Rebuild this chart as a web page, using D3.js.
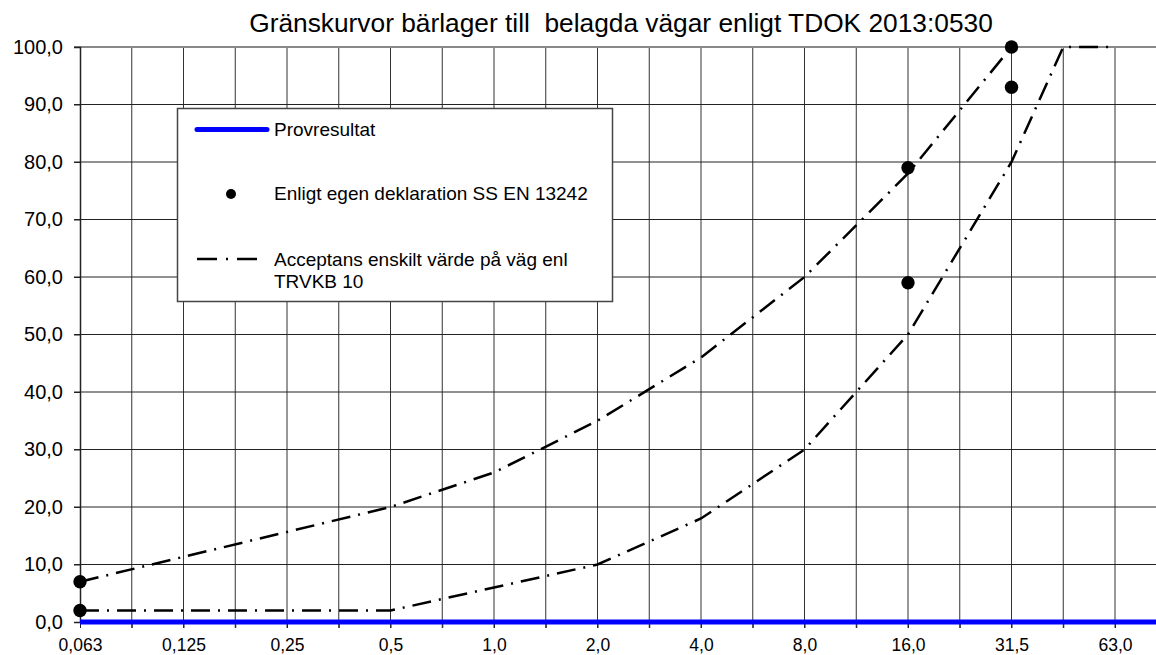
<!DOCTYPE html>
<html>
<head>
<meta charset="utf-8">
<script src="https://cdn.jsdelivr.net/npm/d3@7"></script>
<style>
  body { margin: 0; background: #fff; }
  text { font-family: "Liberation Sans", Arial, sans-serif; fill: #000; }
</style>
</head>
<body>
<div id="chart"></div>
<script>
// sieve sizes (mm), evenly spaced categories; every other one is labelled
const sieves = [0.063, 0.09, 0.125, 0.18, 0.25, 0.355, 0.5, 0.71, 1, 1.4, 2, 2.8, 4, 5.6, 8, 11.2, 16, 22.4, 31.5, 45, 63, 90]
const sieveLabels = ["0,063", "", "0,125", "", "0,25", "", "0,5", "", "1,0", "", "2,0", "", "4,0", "", "8,0", "", "16,0", "", "31,5", "", "63,0", ""]
const yTicks = [0, 10, 20, 30, 40, 50, 60, 70, 80, 90, 100]

// Provresultat (no values -> plotted as 0)
const provValues = sieves.map(() => 0)

// Acceptans enskilt värde, upper limit
const upperSieves = [0.063, 0.5, 1, 2, 4, 8, 16, 31.5]
const upperValues = [7, 20, 26, 35, 46, 60, 78, 100]

// Acceptans enskilt värde, lower limit
const lowerSieves = [0.063, 0.125, 0.25, 0.5, 1, 2, 4, 8, 16, 31.5, 45, 63]
const lowerValues = [2, 2, 2, 2, 6, 10, 18, 30, 50, 80, 100, 100]

// Enligt egen deklaration SS EN 13242
const declSieves = [0.063, 0.063, 16, 16, 31.5, 31.5]
const declValues = [7, 2, 79, 59, 100, 93]

const width = 1156, height = 655
const plotLeft = 80, plotTop = 47, plotBottom = 622

const x = d3.scaleLinear().domain([0, 20]).range([plotLeft, 1115])
const y = d3.scaleLinear().domain([0, 100]).range([plotBottom, plotTop])
const xi = s => x(sieves.indexOf(s))

const svg = d3.select("#chart").append("svg")
  .attr("width", width)
  .attr("height", height)

svg.append("text")
  .attr("x", 621)
  .attr("y", 32)
  .attr("text-anchor", "middle")
  .attr("font-size", 26.3)
  .style("white-space", "pre")
  .text("Gränskurvor bärlager till  belagda vägar enligt TDOK 2013:0530")

// grid
const grid = svg.append("g")
grid.selectAll(".v").data(d3.range(1, sieves.length))
  .join("line")
  .attr("x1", d => x(d)).attr("x2", d => x(d))
  .attr("y1", plotTop).attr("y2", plotBottom + 6)
  .attr("stroke", "#333").attr("stroke-width", 1)
grid.selectAll(".h").data(yTicks.filter(d => d > 0 && d < 100))
  .join("line")
  .attr("x1", plotLeft - 6).attr("x2", width)
  .attr("y1", d => y(d)).attr("y2", d => y(d))
  .attr("stroke", "#222").attr("stroke-width", 1)

// top border
svg.append("line")
  .attr("x1", plotLeft - 6).attr("x2", width)
  .attr("y1", y(100)).attr("y2", y(100))
  .attr("stroke", "#888").attr("stroke-width", 2.2)

// y axis
const yAxis = d3.axisLeft(y).tickValues(yTicks).tickSize(6)
  .tickFormat(d => d3.format(".1f")(d).replace(".", ","))
const gy = svg.append("g").attr("transform", `translate(${plotLeft},0)`).call(yAxis)
gy.select(".domain").attr("stroke", "#222").attr("stroke-width", 1.5)
gy.selectAll(".tick line").attr("stroke", "#222")
gy.selectAll(".tick text").attr("font-size", 20).attr("x", -17)
  .attr("font-family", "Liberation Sans, Arial, sans-serif").attr("fill", "#000")

// x axis
const xAxis = d3.axisBottom(x).tickValues(d3.range(0, sieves.length)).tickSize(6)
  .tickFormat(i => sieveLabels[i])
const gx = svg.append("g").attr("transform", `translate(0,${plotBottom})`).call(xAxis)
gx.select(".domain").remove()
gx.selectAll(".tick line").attr("stroke", "#222")
gx.selectAll(".tick text").attr("font-size", 17.5).attr("y", 17)
  .attr("font-family", "Liberation Sans, Arial, sans-serif").attr("fill", "#000")

const line = d3.line().x(d => d[0]).y(d => d[1])
const dashDot = "19,8,2,8"

// Provresultat
svg.append("path")
  .attr("d", line(sieves.map((s, i) => [xi(s), y(provValues[i])])))
  .attr("fill", "none").attr("stroke", "#0000ff").attr("stroke-width", 5)

// limit curves
svg.append("path")
  .attr("d", line(upperSieves.map((s, i) => [xi(s), y(upperValues[i])])))
  .attr("fill", "none").attr("stroke", "#000").attr("stroke-width", 2.5)
  .attr("stroke-dasharray", dashDot)
svg.append("path")
  .attr("d", line(lowerSieves.map((s, i) => [xi(s), y(lowerValues[i])])))
  .attr("fill", "none").attr("stroke", "#000").attr("stroke-width", 2.5)
  .attr("stroke-dasharray", dashDot)

// declaration points
svg.selectAll(".dot").data(declSieves.map((s, i) => [s, declValues[i]]))
  .join("circle")
  .attr("cx", d => xi(d[0])).attr("cy", d => y(d[1]))
  .attr("r", 6.7).attr("fill", "#000")

// legend
const lg = svg.append("g")
lg.append("rect")
  .attr("x", 177.5).attr("y", 108.5).attr("width", 435).attr("height", 193)
  .attr("fill", "#fff").attr("stroke", "#444").attr("stroke-width", 1.5)
lg.append("line")
  .attr("x1", 197).attr("x2", 267).attr("y1", 129.5).attr("y2", 129.5)
  .attr("stroke", "#0000ff").attr("stroke-width", 5).attr("stroke-linecap", "round")
lg.append("text").attr("x", 274).attr("y", 136).attr("font-size", 19).text("Provresultat")
lg.append("circle").attr("cx", 231).attr("cy", 194).attr("r", 5).attr("fill", "#000")
lg.append("text").attr("x", 274).attr("y", 200).attr("font-size", 19).text("Enligt egen deklaration SS EN 13242")
lg.append("line")
  .attr("x1", 197).attr("x2", 258).attr("y1", 259).attr("y2", 259)
  .attr("stroke", "#000").attr("stroke-width", 2.5).attr("stroke-dasharray", "20,9,2,9")
lg.append("text").attr("x", 274).attr("y", 265.5).attr("font-size", 19).text("Acceptans enskilt värde på väg enl")
lg.append("text").attr("x", 274).attr("y", 288).attr("font-size", 19).text("TRVKB 10")
</script>
</body>
</html>
